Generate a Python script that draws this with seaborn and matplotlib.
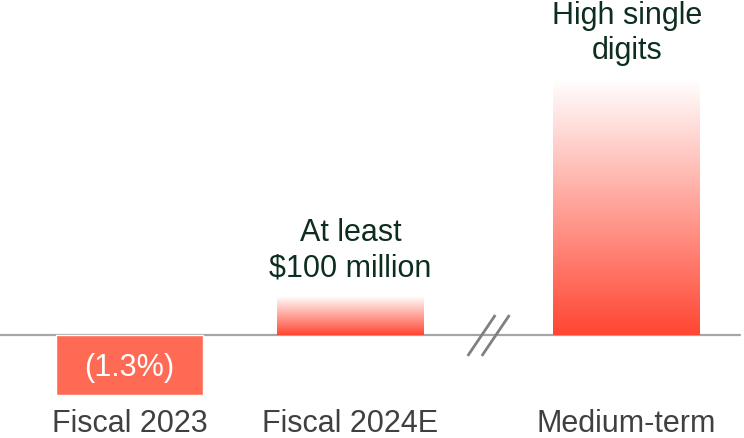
import numpy as np
import pandas as pd
import matplotlib
matplotlib.use("Agg")
import matplotlib.pyplot as plt
import seaborn as sns
from matplotlib.colors import LinearSegmentedColormap

# Dados do gráfico (alturas ilustrativas)
categorias = ["Fiscal 2023", "Fiscal 2024E", "Medium-term"]
posicoes = [0, 1, 2.25]
valores = [-1.3, 0.85, 5.63]
rotulos = ["(1.3%)", "At least\n$100 million", "High single\ndigits"]
gradiente = [False, True, True]

COR_SOLIDA = "#FF6A55"
COR_BASE = "#FF4632"
COR_TEXTO = "#0D2E1F"
COR_EIXO = "#404040"


def main():
    sns.set_theme(style="white")
    plt.rcParams["font.family"] = ["Liberation Sans", "DejaVu Sans"]

    df = pd.DataFrame({"pos": posicoes, "valor": valores, "cat": categorias})

    fig = plt.figure(figsize=(7.44, 4.38), dpi=100)
    ax = fig.add_axes([0, 0, 1, 1])

    sns.barplot(data=df, x="pos", y="valor", native_scale=True, width=0.665,
                color=COR_SOLIDA, saturation=1, ax=ax, zorder=2)

    xlim = (-0.586, 2.781)
    ylim = (-2.258, 7.39)

    # Preenchimento em degradê (branco no topo -> vermelho na base)
    cmap = LinearSegmentedColormap.from_list("grad", ["#FFFFFF", COR_BASE])
    for patch, usa_grad in zip(ax.patches, gradiente):
        if not usa_grad:
            continue
        x0, y0 = patch.get_x(), patch.get_y()
        w, h = patch.get_width(), patch.get_height()
        patch.set_facecolor("none")
        patch.set_edgecolor("none")
        grad = np.linspace(0, 1, 256).reshape(-1, 1)
        im = ax.imshow(grad, cmap=cmap, aspect="auto", origin="upper",
                       extent=[x0, x0 + w, y0, y0 + h], zorder=2)
        im.set_clip_path(patch)

    # Linha de base
    ax.axhline(0, xmin=0, xmax=740 / 744, color="#A6A6A6", lw=1.6, zorder=1)

    # Marca de quebra entre Fiscal 2024E e Medium-term
    meio = (posicoes[1] + posicoes[2]) / 2
    for dx in (-0.032, 0.032):
        ax.plot([meio + dx - 0.0625, meio + dx + 0.0625], [-0.45, 0.45],
                color="#808080", lw=2, solid_capstyle="butt", zorder=3)

    # Rótulos dos valores
    for p, v, txt in zip(posicoes, valores, rotulos):
        if v < 0:
            ax.text(p, v / 2 - 0.07, txt, ha="center", va="center",
                    color="white", fontsize=22, zorder=4)
        else:
            # uma linha por vez, de baixo para cima, alinhadas pela linha de base
            for i, linha in enumerate(reversed(txt.split("\n"))):
                ax.annotate(linha, (p, v), xytext=(0, 15 + i * 25.2),
                            textcoords="offset points", ha="center",
                            va="baseline", color=COR_TEXTO, fontsize=22,
                            zorder=4)

    # Rótulos das categorias
    for p, cat in zip(posicoes, categorias):
        ax.text(p, -2.12, cat, ha="center", va="baseline", color=COR_EIXO,
                fontsize=22)

    ax.set_xlim(*xlim)
    ax.set_ylim(*ylim)
    ax.set_axis_off()

    fig.savefig("out.png", dpi=100)
    plt.close(fig)


if __name__ == "__main__":
    main()
